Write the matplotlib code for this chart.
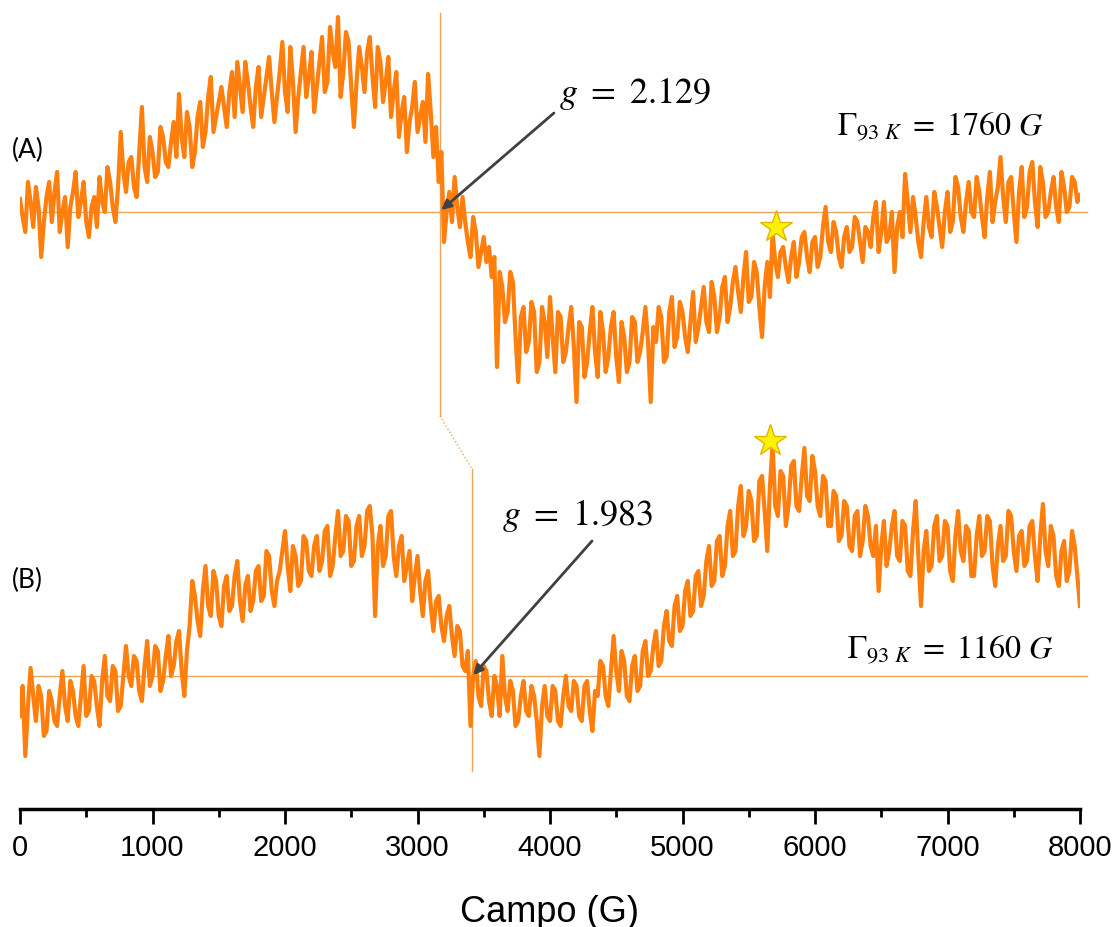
import numpy as np
import matplotlib
matplotlib.use("Agg")
import matplotlib.pyplot as plt

# Magnetic field axis (G), sampled every 20 G
field = np.arange(0, 8001, 20)

# First-derivative EPR signals (arbitrary units, relative to each baseline)
signal_a = [
    13, -5, -20, 30, 10, -15, 25, 5, -45, -10, 15, 30, -10, 20, 40, -20, 0, 15, -35, 5,
    20, 40, -5, 10, 30, -10, -25, 5, 15, -15, 35, 10, 0, 45, 30, 5, -10, 25, 80, 40,
    20, 50, 55, 25, 15, 60, 105, 45, 30, 75, 60, 35, 40, 85, 75, 50, 45, 70, 90, 55,
    118, 75, 55, 100, 85, 45, 60, 95, 110, 65, 80, 115, 135, 80, 95, 110, 125, 105, 85, 120,
    140, 95, 150, 125, 100, 150, 130, 105, 85, 125, 145, 95, 115, 135, 155, 120, 90, 115, 140, 170,
    120, 100, 165, 130, 80, 115, 140, 165, 115, 135, 160, 100, 125, 150, 175, 120, 130, 185, 160, 145,
    195, 115, 140, 180, 170, 125, 85, 130, 165, 145, 120, 160, 175, 135, 105, 165, 150, 110, 130, 155,
    95, 120, 140, 75, 100, 115, 60, 90, 105, 130, 80, 95, 110, 70, 138, 100, 55, 85, 30, 60,
    -30, 0, 20, -10, 35, 5, -15, 15, -10, -30, -45, -5, -20, -55, -40, -25, -50, -35, -65, -45,
    -155, -60, -75, -110, -100, -60, -70, -125, -170, -105, -95, -140, -130, -90, -100, -160, -150, -95, -110, -145,
    -85, -125, -160, -100, -105, -150, -140, -115, -95, -135, -190, -110, -115, -165, -150, -120, -95, -140, -165, -100,
    -120, -160, -145, -115, -100, -145, -170, -110, -125, -160, -150, -105, -110, -150, -140, -120, -95, -130, -190, -115,
    -130, -95, -105, -150, -145, -100, -85, -135, -125, -90, -100, -125, -140, -110, -80, -130, -115, -95, -75, -110,
    -120, -70, -85, -120, -105, -75, -65, -110, -95, -70, -55, -80, -100, -65, -40, -90, -85, -50, -60, -95,
    -125, -75, -50, -85, -20, -50, -65, -40, -35, -55, -70, -45, -30, -65, -50, -25, -20, -45, -60, -30,
    -25, -55, -45, -15, 5, -30, -40, -10, -20, -45, -55, -25, -15, -40, -35, -5, -10, -30, -50, -15,
    -20, -35, -5, 10, -40, -20, 10, -30, -25, 0, -60, -15, 0, -25, 38, 10, -20, 15, -5, -30,
    -45, -10, 15, -15, -25, 20, 5, -15, -35, 0, 20, -20, -10, 35, 25, -5, -20, 10, 30, 0,
    -5, 35, 20, -5, -25, 15, 40, -10, 10, 25, 55, 15, -10, 30, 35, 0, -30, 20, 45, -5,
    5, 40, 50, 10, -15, 45, 30, -5, 0, 20, 35, 5, -10, 40, 25, 0, 5, 35, 30, 10,
    17,
]
signal_b = [
    -40, -10, -80, -30, 8, -20, -45, -10, -20, -60, -55, -15, -25, -45, -50, -20, 5, -30, -45, -5,
    -15, -40, -50, -20, 10, -40, -35, 0, -5, -30, -50, -5, 20, -20, -25, 10, 5, -35, -30, 0,
    30, 0, -10, 20, 15, -15, -25, 10, 35, -10, 0, 30, 25, -15, -5, 20, 40, 0, 10, 35,
    45, 5, -20, 25, 50, 95, 80, 55, 40, 85, 110, 70, 60, 105, 95, 60, 50, 90, 100, 65,
    70, 100, 115, 75, 55, 90, 100, 65, 75, 105, 110, 75, 80, 125, 120, 85, 70, 95, 105, 125,
    145, 110, 85, 130, 120, 90, 95, 140, 135, 105, 100, 130, 140, 105, 115, 145, 150, 100, 110, 140,
    165, 120, 125, 160, 155, 110, 115, 150, 160, 120, 130, 165, 170, 140, 60, 130, 150, 110, 120, 160,
    165, 120, 100, 130, 140, 95, 110, 125, 75, 100, 120, 85, 60, 95, 105, 70, 45, 75, 80, 50,
    35, 60, 70, 40, 20, 50, 45, 10, 5, 25, -50, 0, 15, -20, -30, 10, 5, -25, -40, 0,
    -10, -40, 20, -20, -35, -5, -15, -50, -45, -20, -5, -35, -40, -10, -20, -45, -80, -30, -10, -40,
    -45, -10, -15, -45, -50, -20, 0, -30, -35, -5, -10, -40, -45, -10, -5, -35, -55, -15, -20, 15,
    10, -20, -30, 5, 40, 5, -15, 25, 15, -20, -25, 10, 20, -15, -10, 25, 35, 0, 5, 30,
    45, 10, 15, 50, 65, 35, 30, 70, 80, 45, 50, 85, 95, 60, 65, 100, 105, 70, 80, 115,
    130, 90, 95, 135, 140, 100, 110, 150, 165, 120, 125, 170, 190, 140, 150, 185, 175, 135, 140, 195,
    200, 165, 125, 190, 232, 170, 160, 205, 200, 150, 170, 210, 215, 170, 165, 200, 228, 180, 175, 220,
    205, 170, 160, 200, 195, 150, 150, 185, 180, 135, 140, 175, 170, 130, 125, 160, 165, 120, 135, 170,
    160, 130, 120, 150, 85, 130, 155, 110, 125, 150, 165, 120, 115, 155, 150, 105, 100, 145, 175, 120,
    70, 125, 145, 105, 110, 150, 160, 115, 120, 155, 150, 105, 95, 140, 165, 125, 115, 150, 145, 100,
    100, 140, 160, 120, 125, 160, 155, 110, 90, 130, 150, 115, 120, 165, 160, 125, 105, 140, 145, 110,
    115, 150, 155, 120, 95, 140, 172, 125, 110, 150, 140, 100, 90, 125, 135, 95, 105, 145, 130, 100,
    70,
]

# Resonance fields, g values and linewidths
res_field = [3170, 3411]
g_labels = ["2.129", "1.983"]
gamma_labels = ["1760", "1160"]
star_field = [5706, 5660]
star_signal = [-15, 235]
panel_labels = ["(A)", "(B)"]

x_ticks = np.arange(0, 8001, 1000)
x_label = "Campo (G)"

# Vertical stacking of the two traces
offset_a, offset_b = 597, 133

ORANGE = "#FF7F0E"
GUIDE = "#E8A65A"

plt.rcParams["mathtext.fontset"] = "stix"

fig = plt.figure(figsize=(11.2, 9.28), dpi=100)
ax = fig.add_axes([20 / 1120, 118 / 928, 1060 / 1120, 810 / 928])
ax.set_xlim(0, 8000)
ax.set_ylim(0, 810)

# Baselines
ax.plot([90, 8053], [offset_a, offset_a], color=GUIDE, lw=1.0, clip_on=False, zorder=1)
ax.plot([90, 8053], [offset_b, offset_b], color=GUIDE, lw=1.0, clip_on=False, zorder=1)

# Resonance guide: vertical through A, dotted jog, vertical through B
ax.plot([res_field[0], res_field[0]], [796, 393], color=GUIDE, lw=1.0, zorder=1)
ax.plot([res_field[0], res_field[1]], [393, 340], color=GUIDE, lw=1.0, ls=":", zorder=1)
ax.plot([res_field[1], res_field[1]], [340, 38], color=GUIDE, lw=1.0, zorder=1)

# Spectra
ax.plot(field, np.array(signal_a) + offset_a, color=ORANGE, lw=3.0, zorder=2)
ax.plot(field, np.array(signal_b) + offset_b, color=ORANGE, lw=3.0, zorder=2)

# Stars
ax.plot(star_field[0], star_signal[0] + offset_a, marker="*", ms=24,
        mfc="#FFF200", mec="#E3B500", mew=1.0, zorder=4, ls="none")
ax.plot(star_field[1], star_signal[1] + offset_b, marker="*", ms=24,
        mfc="#FFF200", mec="#E3B500", mew=1.0, zorder=4, ls="none")

# g-value annotations
arrow = dict(arrowstyle="-|>", color="#404040", lw=2.0, mutation_scale=14,
             shrinkA=0, shrinkB=0)
ax.annotate("", xy=(res_field[0] + 10, offset_a + 2), xytext=(4030, 696),
            arrowprops=arrow, zorder=5)
ax.text(4642, 717, rf"$g\ =\ {g_labels[0]}$", fontsize=26, ha="center", va="center")
ax.annotate("", xy=(res_field[1] + 10, offset_b + 1), xytext=(4317, 268),
            arrowprops=arrow, zorder=5)
ax.text(4211, 295, rf"$g\ =\ {g_labels[1]}$", fontsize=26, ha="center", va="center")

# Linewidth annotations
ax.text(6943, 683, rf"$\Gamma_{{93\ K}}\ =\ {gamma_labels[0]}\ G$", fontsize=23,
        ha="center", va="center")
ax.text(7019, 160, rf"$\Gamma_{{93\ K}}\ =\ {gamma_labels[1]}\ G$", fontsize=23,
        ha="center", va="center")

# Panel labels
ax.text(-60, 660, panel_labels[0], fontsize=19, family="Lato", ha="left", va="center")
ax.text(-60, 230, panel_labels[1], fontsize=19, family="Lato", ha="left", va="center")

# Axis styling: only the bottom field axis
for side in ("left", "right", "top"):
    ax.spines[side].set_visible(False)
ax.spines["bottom"].set_linewidth(2.5)
ax.set_yticks([])
ax.set_xticks(x_ticks)
ax.set_xticks(np.arange(500, 8000, 1000), minor=True)
ax.tick_params(axis="x", which="major", direction="out", length=11, width=2,
               labelsize=21, pad=6)
ax.tick_params(axis="x", which="minor", direction="out", length=5.5, width=2)
for lbl in ax.get_xticklabels():
    lbl.set_family("Liberation Sans")
ax.set_xlabel(x_label, fontsize=26, family="Liberation Sans", labelpad=24)

fig.savefig("out.png", dpi=100)
